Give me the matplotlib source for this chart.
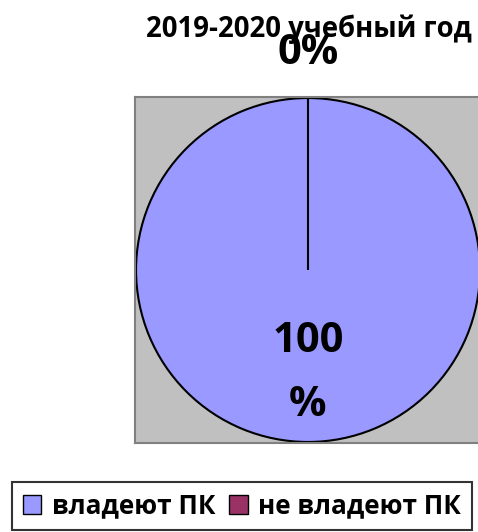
import matplotlib
matplotlib.use("Agg")
import matplotlib.pyplot as plt
from matplotlib.patches import Patch
import numpy as np

plt.rcParams['font.family'] = ['Open Sans', 'DejaVu Sans']

# data
title = "2019-2020 учебный год"
categories = ["владеют ПК", "не владеют ПК"]
values = [100, 0]
colors = ["#9999FF", "#993366"]


def fmt_pct(p):
    if p >= 100:
        return f"{p:.0f}\n%"
    return f"{p:.0f}%"


fig = plt.figure(figsize=(4.78, 5.32), dpi=100)
W, H = 478, 532

fig.text(309 / W, 1 - 29 / H, title, ha="center", va="center",
         fontsize=19.8, fontweight="bold")

# plot area (gray square)
ax = fig.add_axes([135 / W, (H - 443) / H, 346 / W, 346 / H])
ax.set_facecolor("#C0C0C0")

wedges, texts = ax.pie(values, colors=colors, startangle=90, counterclock=False,
                       wedgeprops=dict(edgecolor="black", linewidth=1.5),
                       radius=1.0)
ax.set_xlim(-1.006, 1.006)
ax.set_ylim(-1.006, 1.006)
ax.set_aspect("equal")
ax.set_frame_on(True)
for s in ax.spines.values():
    s.set_color("#808080")
    s.set_linewidth(1.5)

# data labels
total = sum(values)
dists = [0.6, 1.26]
for w, v, d in zip(wedges, values, dists):
    ang = np.deg2rad((w.theta1 + w.theta2) / 2)
    ax.text(d * np.cos(ang), d * np.sin(ang), fmt_pct(100 * v / total),
            ha="center", va="center", fontsize=30, fontweight="bold",
            linespacing=1.75, clip_on=False)

handles = [Patch(facecolor=c, edgecolor="black", linewidth=1) for c in colors]
leg = fig.legend(handles, categories, loc="center", ncol=2,
                 bbox_to_anchor=(242 / W, 1 - 506 / H),
                 prop=dict(size=18.8, weight="bold"), frameon=True,
                 fancybox=False, handlelength=0.7, handleheight=0.7,
                 handletextpad=0.4, columnspacing=0.55, borderpad=0.4,
                 borderaxespad=0)
leg.get_frame().set_edgecolor("black")
leg.get_frame().set_linewidth(1.5)

fig.savefig("out.png", dpi=100)
